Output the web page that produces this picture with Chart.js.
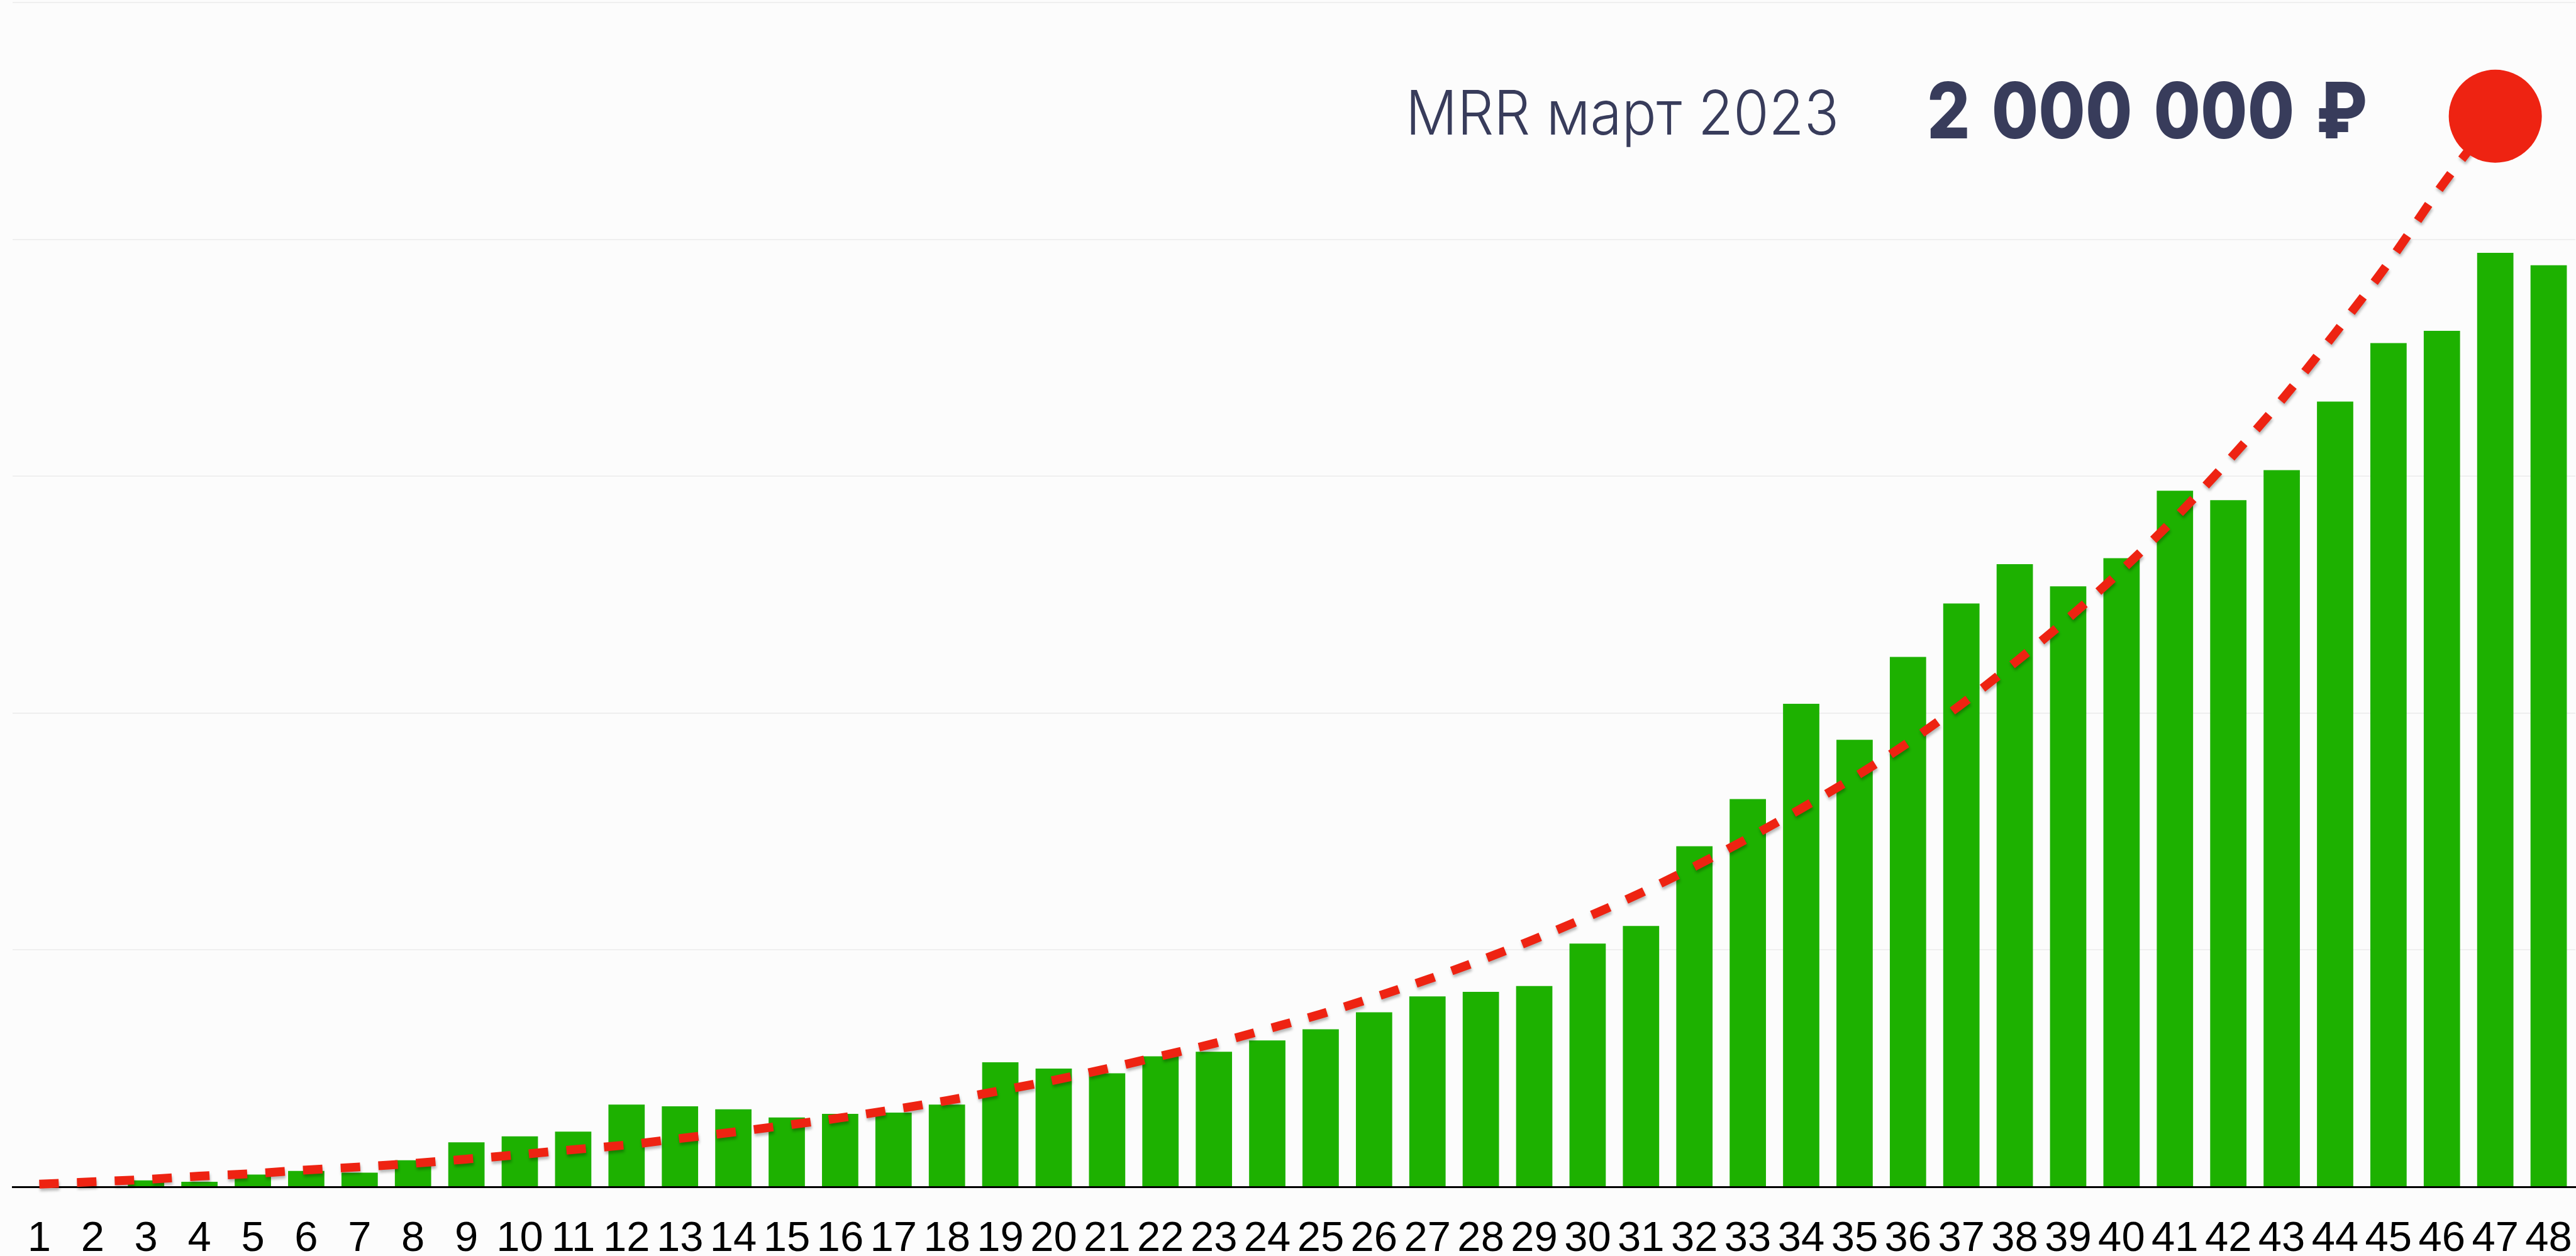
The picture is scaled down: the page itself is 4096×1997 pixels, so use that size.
<!DOCTYPE html>
<html>
<head>
<meta charset="utf-8">
<script src="https://cdn.jsdelivr.net/npm/chart.js@4.4.0/dist/chart.umd.min.js"></script>
<style>
  html, body { margin: 0; padding: 0; background: #fcfcfc; }
  #wrap { position: relative; width: 4096px; height: 1997px; overflow: hidden; }
  #grafico { position: absolute; left: 0; top: 0; }
  .hdr { position: absolute; white-space: nowrap; line-height: 1; color: #383c5b;
         font-family: Inter, "Noto Sans", sans-serif; transform-origin: 0 0; }
  #mrrLabel { left: 2235px; top: 130px; font-size: 97px; font-weight: 300; }
  #mrrValue { left: 3064px; top: 113px; font-size: 124px; font-weight: 800; word-spacing: 12px; }
</style>
</head>
<body>
<div id="wrap">
  <canvas id="grafico" width="4096" height="1997"></canvas>
  <div class="hdr" id="mrrLabel"></div>
  <div class="hdr" id="mrrValue"></div>
</div>
<script>
// === Dados ===
const meses = ['1','2','3','4','5','6','7','8','9','10','11','12','13','14','15','16',
  '17','18','19','20','21','22','23','24','25','26','27','28','29','30','31','32',
  '33','34','35','36','37','38','39','40','41','42','43','44','45','46','47','48'];

// receita real (barras verdes)
const mrrReal = [0, 0, 2.7, 2.1, 5.2, 6.7, 6.0, 11.2, 18.8, 21.3,
  23.3, 34.7, 34.0, 32.7, 29.3, 30.8, 31.3, 34.7, 52.6, 49.9,
  47.9, 55.1, 57.0, 61.8, 66.5, 73.7, 80.4, 82.3, 84.8, 102.7,
  110.1, 143.8, 163.7, 203.9, 188.7, 223.7, 246.3, 262.9, 253.5, 265.4,
  293.9, 289.9, 302.6, 331.5, 356.2, 361.4, 394.3, 389.1];

// plano (linha tracejada vermelha)
const mrrPlano = [1.1, 2.1, 3.1, 4.5, 5.6, 7.1, 8.4, 9.9, 11.7, 13.6,
  15.7, 17.7, 20.4, 23.1, 26.0, 29.1, 32.6, 36.4, 40.6, 45.0,
  49.9, 55.2, 60.5, 66.6, 72.9, 80.0, 87.5, 95.7, 104.5, 114.0,
  124.1, 135.2, 147.1, 159.7, 173.0, 187.5, 203.7, 221.3, 240.0, 260.3,
  282.3, 306.5, 332.2, 360.4, 390.1, 422.7, 452, null];

// meta
const metaMes = '47';
const metaValor = 452;

const escalaMax = 500;
const escalaPasso = 100;

const tituloMeta = 'MRR март 2023';
const valorMeta = '2 000 000 ₽';

// === Cabeçalho ===
// estreita o texto na horizontal ate a largura do original
function ajustaLargura(id, texto, largura) {
  const el = document.getElementById(id);
  el.textContent = texto;
  const w = el.getBoundingClientRect().width;
  el.style.transform = 'scaleX(' + (largura / w) + ')';
}
ajustaLargura('mrrLabel', tituloMeta, 689);
ajustaLargura('mrrValue', valorMeta, 700);

const pontoMeta = meses.map(m => (m === metaMes ? metaValor : null));

const VERDE = '#1db100';
const VERMELHO = '#ee2312';

// sombra leve sob a linha tracejada
const sombra = {
  id: 'sombra',
  beforeDatasetDraw(chart, args) {
    if (args.index !== 1) return;
    const ctx = chart.ctx;
    ctx.save();
    ctx.shadowColor = 'rgba(0,0,0,0.28)';
    ctx.shadowBlur = 4;
    ctx.shadowOffsetX = 1;
    ctx.shadowOffsetY = 4;
  },
  afterDatasetDraw(chart, args) {
    if (args.index !== 1) return;
    chart.ctx.restore();
  }
};

const ctx = document.getElementById('grafico').getContext('2d');
new Chart(ctx, {
  data: {
    labels: meses,
    datasets: [
      {
        type: 'line',
        data: pontoMeta,
        showLine: false,
        pointRadius: 74,
        pointHoverRadius: 74,
        pointBackgroundColor: VERMELHO,
        pointBorderWidth: 0,
        clip: false,
        order: 0
      },
      {
        type: 'line',
        data: mrrPlano,
        borderColor: VERMELHO,
        borderWidth: 14,
        borderDash: [31, 29],
        borderCapStyle: 'butt',
        tension: 0.4,
        cubicInterpolationMode: 'monotone',
        pointRadius: 0,
        fill: false,
        clip: false,
        order: 1
      },
      {
        type: 'bar',
        data: mrrReal,
        backgroundColor: VERDE,
        barPercentage: 0.68,
        categoryPercentage: 1,
        order: 2
      }
    ]
  },
  options: {
    responsive: false,
    animation: false,
    devicePixelRatio: 1,
    layout: { autoPadding: false, padding: { top: 4, left: 20, right: 1, bottom: 0 } },
    plugins: { legend: { display: false }, tooltip: { enabled: false } },
    scales: {
      x: {
        z: 1,
        grid: { display: false, drawTicks: false },
        border: { display: true, color: '#000', width: 3 },
        ticks: {
          color: '#000',
          font: { family: '"Liberation Sans", Arial, sans-serif', size: 67, lineHeight: 2.5 },
          padding: 0,
          maxRotation: 0,
          autoSkip: false
        },
        afterFit(s) { s.height = 110; }
      },
      y: {
        min: 0,
        max: escalaMax,
        ticks: { display: false, stepSize: escalaPasso },
        grid: { color: '#efefef', lineWidth: 2, drawTicks: false },
        border: { display: false },
        afterFit(s) { s.width = 0; }
      }
    }
  },
  plugins: [sombra]
});
</script>
</body>
</html>
